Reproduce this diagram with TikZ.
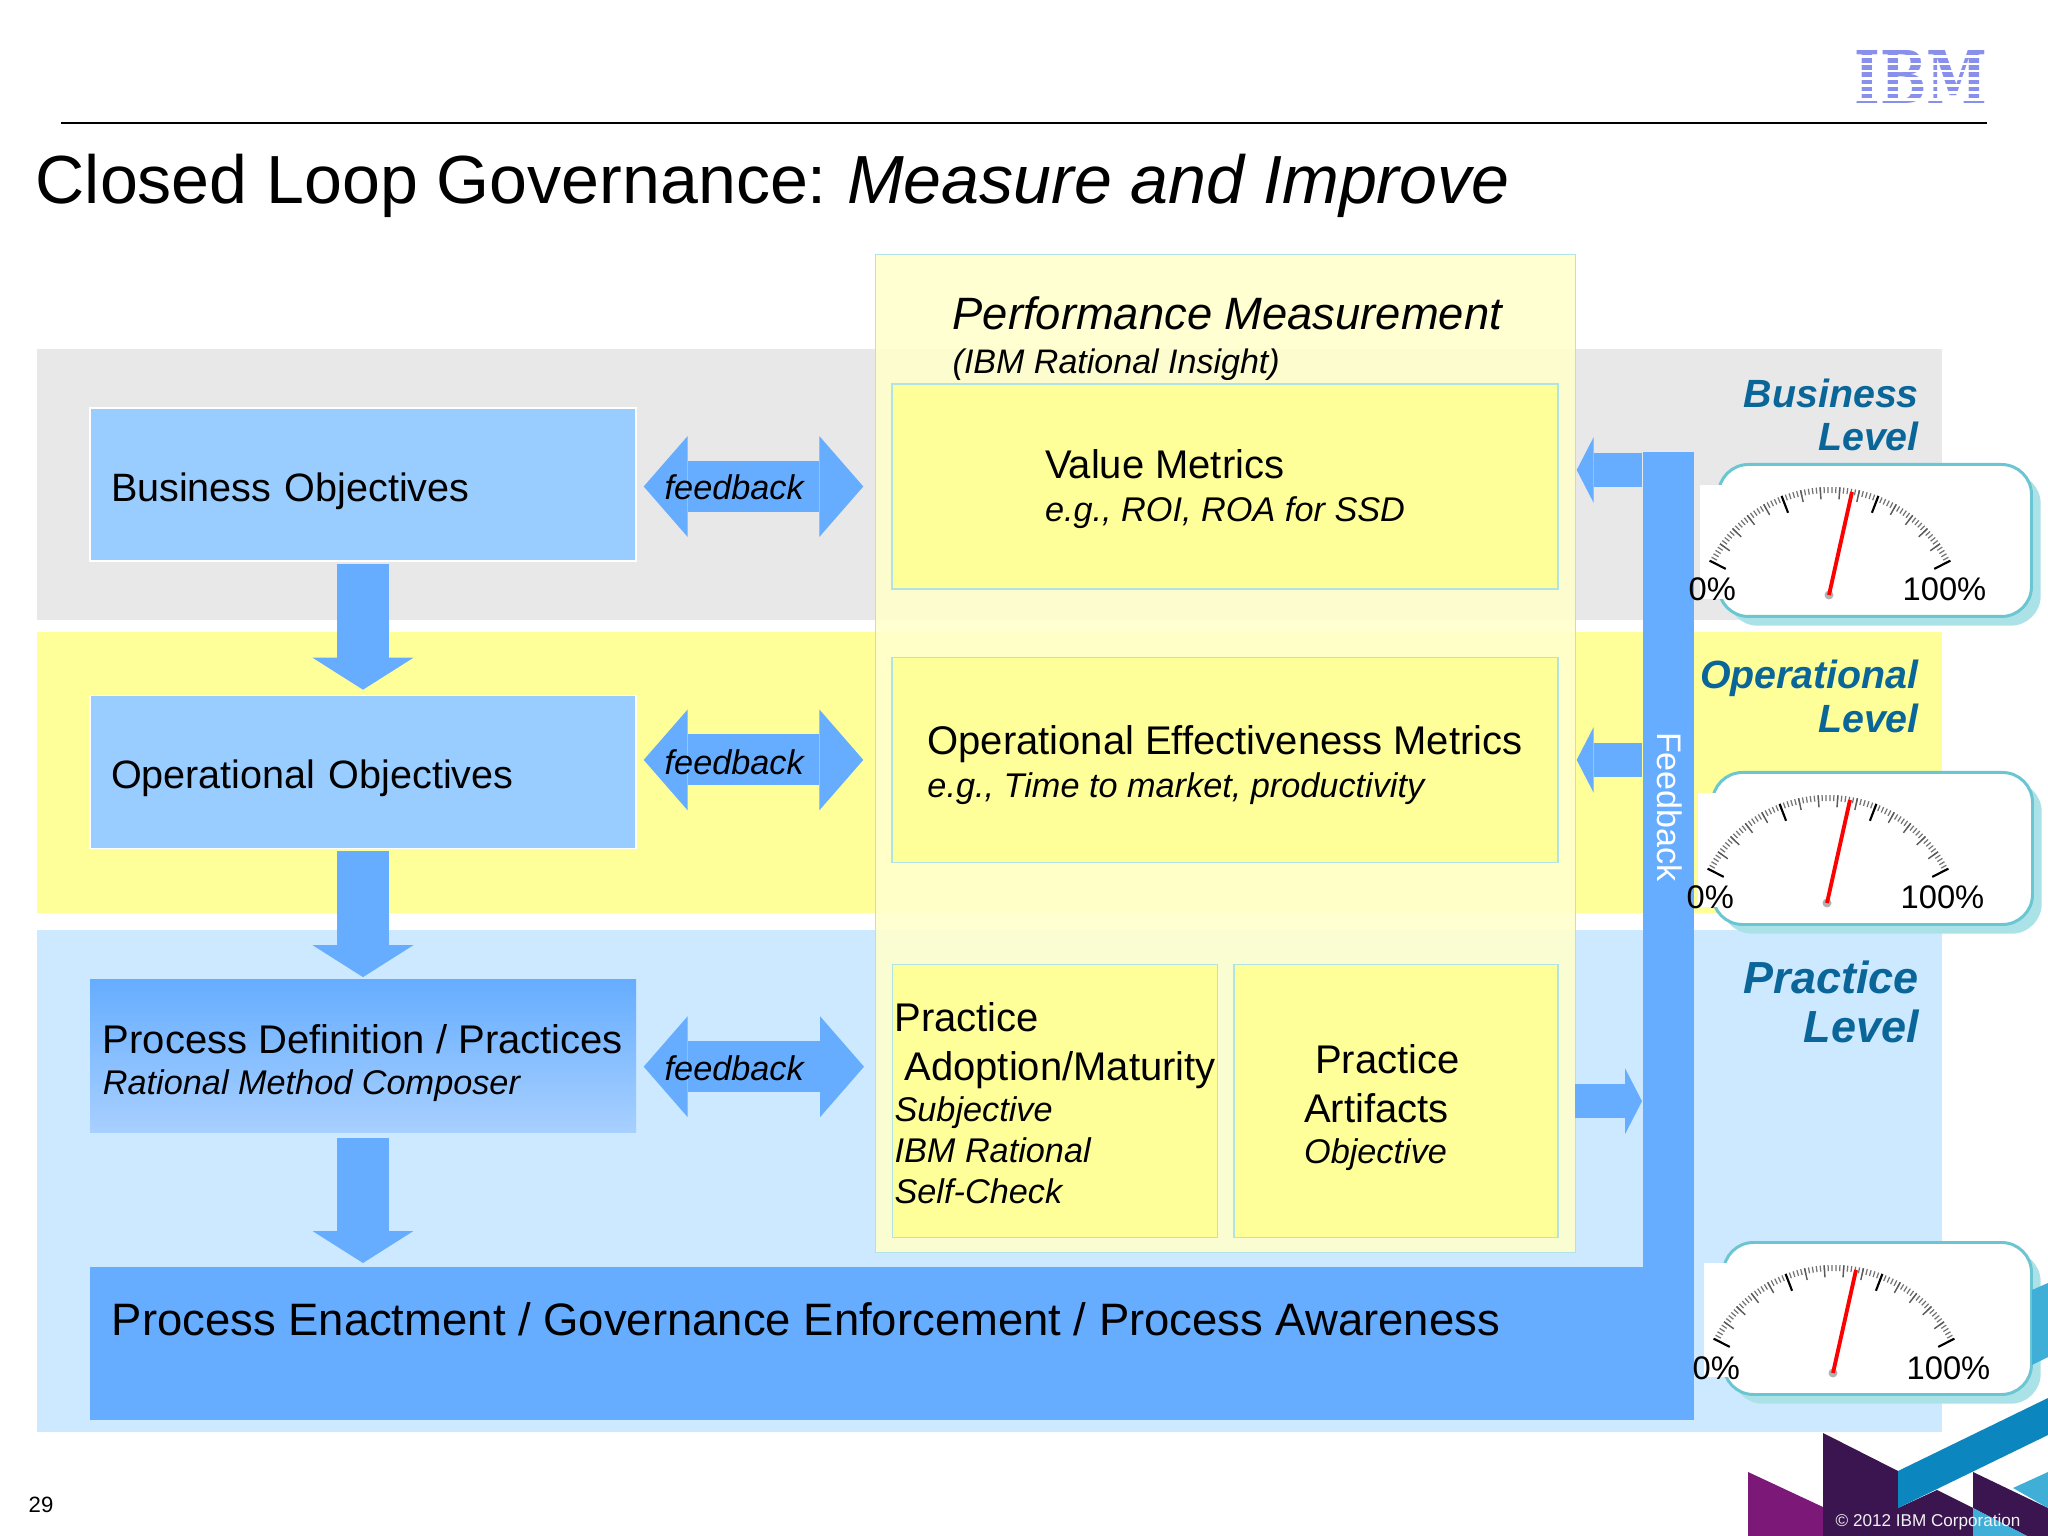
\documentclass[tikz,border=0pt]{standalone}
\usepackage{fontspec}
\usepackage{tikz}
\usetikzlibrary{positioning}
\usetikzlibrary{arrows.meta}
\setmainfont{Liberation Sans}
\newfontfamily\logofont{DejaVu Serif}

\definecolor{BandGrey}{HTML}{E8E8E9}
\definecolor{BandYellow}{HTML}{FFFF99}
\definecolor{BandBlue}{HTML}{CCE9FF}
\definecolor{FlowBlue}{HTML}{66ADFF}
\definecolor{ObjBlue}{HTML}{99CCFF}
\definecolor{PaleBlue}{HTML}{A8D0FF}
\definecolor{ColYellow}{HTML}{FFFFCC}
\definecolor{BoxLine}{HTML}{B0E4E4}
\definecolor{LevelBlue}{HTML}{0A6699}
\definecolor{PanelLine}{HTML}{6CC6D2}
\definecolor{PanelShadow}{HTML}{ABE2E8}
\definecolor{LogoBlue}{HTML}{8890EC}
\definecolor{DecoPurple}{HTML}{7B1878}
\definecolor{DecoDark}{HTML}{3A154F}
\definecolor{DecoBlue}{HTML}{0B86BE}
\definecolor{DecoLight}{HTML}{3FAFD8}

\newcommand{\txtbody}{\fontsize{11.38}{13.9}\selectfont}
\newcommand{\txtsub}{\fontsize{9.75}{12}\selectfont\itshape}
\newcommand{\txtlevel}{\fontsize{11.2}{12.4}\selectfont\bfseries\itshape}
\newcommand{\topgap}[1]{\rule{0pt}{#1}}

\tikzset{
	band/.style={
		inner sep=0pt,
		anchor=north west
	},
	objbox/.style={
		draw=white,
		line width=.4pt,
		fill=ObjBlue,
		minimum width=5.46cm,
		minimum height=1.53cm,
		inner xsep=.21cm,
		text width=5.04cm,
		align=left,
		font=\fontsize{11.26}{13.9}\selectfont
	},
	metricbox/.style={
		draw=BoxLine,
		line width=.4pt,
		fill=BandYellow,
		minimum height=2.05cm,
		inner sep=0pt,
		align=left,
		font=\txtbody
	},
	flow/.style={
		draw=FlowBlue,
		line width=.52cm,
		-{Triangle[length=.32cm,width=1.01cm,line width=0pt]}
	},
	feedflow/.style={
		draw=FlowBlue,
		line width=.51cm,
		{Triangle[length=.44cm,width=1.01cm,line width=0pt]}-{Triangle[length=.44cm,width=1.01cm,line width=0pt]}
	},
	busflow/.style={
		draw=FlowBlue,
		line width=.34cm,
		-{Triangle[length=.17cm,width=.66cm,line width=0pt]}
	},
	panel/.style={
		draw=PanelLine,
		line width=.85pt,
		fill=white,
		rounded corners=.3cm,
		minimum height=1.52cm,
		inner sep=0pt,
		anchor=north west
	},
	panelback/.style={
		fill=PanelShadow,
		rounded corners=.3cm,
		minimum height=1.52cm,
		inner sep=0pt,
		anchor=north west
	},
	tickminor/.style={line width=.35pt, draw=black!55},
	tickmedium/.style={line width=.4pt, draw=black!65},
	tickmajor/.style={line width=.6pt, draw=black}
}

% one dial: name, pivot, panel left edge, panel width
\newcommand{\gauge}[4]{
	\begin{scope}[shift={(#2)}]
		\node[panelback, minimum width=#4 cm] (#1-back) at (#3+.1,-1.22) {};
		\node[panel, minimum width=#4 cm] (#1-panel) at (#3,-1.32) {};
		\node[fill=white, inner sep=0pt, minimum width=.27cm, minimum height=1.14cm, anchor=north west] (#1-patch) at (-1.3,-1.11) {};
		\begin{scope}[shift={(.01,.27)}]
			\foreach \i in {0,...,75}
				\draw[tickminor] ({153-1.68*\i}:1.35cm) -- ({153-1.68*\i}:1.29cm);
			\foreach \i in {0,...,15}
				\draw[tickmedium] ({153-8.4*\i}:1.35cm) -- ({153-8.4*\i}:1.23cm);
			\foreach \i in {0,...,3}
				\draw[tickmajor] ({153-42*\i}:1.35cm) -- ({153-42*\i}:1.17cm);
		\end{scope}
		\node[circle, fill=black!30, minimum size=.09cm, inner sep=0pt] (#1-pivot) at (0,0) {};
		\coordinate (#1-tip) at (.23,-1.03);
		\draw[red, line width=1.1pt] (#1-pivot.center) -- (#1-tip);
		\node[anchor=base west, inner sep=0pt, font=\fontsize{9.3}{11}\selectfont] (#1-zero) at (-1.41,.06) {0\%};
		\node[anchor=base west, inner sep=0pt, font=\fontsize{9.3}{11}\selectfont] (#1-full) at (.73,.06) {100\%};
	\end{scope}
}

\begin{document}
\begin{tikzpicture}[x=1cm,y=-1cm]
	\useasboundingbox (0,0) rectangle (20.48,15.36);
	
	% --- bands
	
	\node[band, fill=BandGrey, minimum width=19.05cm, minimum height=2.71cm] (BusBand) at (.365,3.48) {};
	\node[band, fill=BandYellow, minimum width=19.05cm, minimum height=2.81cm] (OpBand) at (.365,6.31) {};
	\node[band, fill=BandBlue, minimum width=19.05cm, minimum height=5.02cm] (PracBand) at (.365,9.29) {};
	
	% --- decoration in the corner
	
	\fill[DecoPurple] (17.48,14.72) -- (18.23,15.07) -- (18.23,15.36) -- (17.48,15.36) -- cycle;
	\fill[DecoDark] (18.23,14.33) -- (18.98,14.71) -- (18.98,15.08) -- (19.37,14.90) -- (19.73,15.08) -- (19.73,15.36) -- (18.23,15.36) -- cycle;
	\fill[DecoBlue] (18.98,14.71) -- (20.48,13.98) -- (20.48,14.35) -- (18.98,15.08) -- cycle;
	\fill[DecoDark] (19.73,14.72) -- (20.48,15.08) -- (20.48,15.36) -- (20.27,15.36) -- (19.73,15.08) -- cycle;
	\fill[DecoLight] (19.73,15.08) -- (20.27,15.36) -- (19.73,15.36) -- cycle;
	\fill[DecoLight] (20.13,14.88) -- (20.48,14.72) -- (20.48,15.08) -- cycle;
	
	% --- heading
	
	\draw[line width=.7pt] (.61,1.23) -- (19.87,1.23);
	\node[anchor=base west, inner sep=0pt, font=\fontsize{19.38}{23}\selectfont] (Title) at (.35,2.04) {Closed Loop Governance:\hspace*{.01cm} \textit{Measure and Improve}};
	\node[anchor=base west, inner sep=0pt, text=LogoBlue, font=\logofont\bfseries\fontsize{20.7}{24}\selectfont] (Logo) at (18.54,1.04) {\scalebox{.755}[1]{IBM}};
	\foreach \i in {0,...,6}
		\fill[white] (18.4,{.555+.0715*\i}) rectangle (20,{.582+.0715*\i});
	
	% --- objectives
	
	\node[objbox, text height=.42cm] (BusObj) at (3.63,4.845) {Business Objectives};
	
	\node[objbox, text height=.42cm, below=1.33cm of BusObj] (OpObj) {Operational Objectives};
	
	\node[objbox, below=1.3cm of OpObj, draw=none, text width=, inner xsep=0pt, top color=FlowBlue, bottom color=PaleBlue, font=\txtbody] (ProcDef) {\topgap{.43cm}Process Definition / Practices\\[-2.1pt]{\txtsub Rational Method Composer}};
	
	\node[fill=FlowBlue, anchor=north west, inner sep=0pt, minimum width=16.04cm, minimum height=1.53cm] (Enact) at (.89,12.66) {};
	\node[anchor=base west, inner sep=0pt, font=\fontsize{12.93}{15}\selectfont] (EnactText) at (1.11,13.35) {Process Enactment / Governance Enforcement / Process Awareness};
	
	% ---
	
	\node[fill=FlowBlue, anchor=north west, inner sep=0pt, minimum width=.51cm, minimum height=8.2cm] (FBar) at (16.42,4.51) {};
	\node[rotate=-90, text=white, inner sep=0pt, font=\fontsize{9.7}{11}\selectfont] (FBarText) at (16.7,8.07) {Feedback};
	
	% --- measurement column
	
	\node[band, draw=BoxLine, line width=.4pt, fill=ColYellow, fill opacity=.9, minimum width=7cm, minimum height=9.98cm] (PerfCol) at (8.75,2.54) {};
	\node[anchor=base west, inner sep=0pt, font=\fontsize{12.9}{15}\selectfont\itshape] (PerfHead) at (9.52,3.3) {Performance Measurement};
	\node[anchor=base west, inner sep=0pt, font=\fontsize{9.68}{12}\selectfont\itshape] (PerfTool) at (9.52,3.735) {(IBM Rational Insight)};
	
	\node[metricbox, minimum width=6.66cm] (ValMetric) at (12.25,4.865) {\topgap{.345cm}Value Metrics\\[-1.8pt]{\txtsub e.g., ROI, ROA for SSD}};
	
	\node[metricbox, minimum width=6.66cm, below=.67cm of ValMetric] (OpMetric) {\topgap{.39cm}Operational Effectiveness Metrics\\[-1.8pt]{\txtsub e.g., Time to market, productivity}};
	
	\node[metricbox, minimum width=3.25cm, minimum height=2.73cm, anchor=north west] (PracAdopt) at (8.92,9.64) {\topgap{.33cm}Practice\\[0pt]\hspace*{.1cm}Adoption/Maturity\\[-2.1pt]{\txtsub Subjective}\\[-2.3pt]{\txtsub IBM Rational}\\[-2.3pt]{\txtsub Self-Check}};
	
	\node[metricbox, minimum width=3.24cm, minimum height=2.73cm, right=.15cm of PracAdopt, inner xsep=.7cm, text width=1.84cm] (PracArt) {\topgap{.42cm}\hspace*{.11cm}Practice\\Artifacts\\[-2.1pt]{\txtsub Objective}};
	
	% --- level labels
	
	\node[anchor=north east, inner sep=0pt, align=right, text=LevelBlue, font=\txtlevel] (BusLevel) at (19.195,3.78) {Business\\Level};
	\node[anchor=north east, inner sep=0pt, align=right, text=LevelBlue, font=\txtlevel] (OpLevel) at (19.195,6.595) {Operational\\Level};
	\node[anchor=north east, inner sep=0pt, align=right, text=LevelBlue, font=\fontsize{12.8}{13.9}\selectfont\bfseries\itshape] (PracLevel) at (19.195,9.6) {Practice\\Level};
	
	% --- flows
	
	\draw[flow, shorten <=.02cm, shorten >=.05cm] (BusObj.south) -- (OpObj.north);
	\draw[flow, shorten <=.02cm, shorten >=.02cm] (OpObj.south) -- (ProcDef.north);
	\draw[flow, shorten <=.04cm, shorten >=.03cm] (ProcDef.south) -- (ProcDef.south |- Enact.north);
	
	\draw[feedflow, shorten <=.07cm, shorten >=.28cm] (ValMetric.west -| BusObj.east) -- (ValMetric.west);
	\draw[feedflow, shorten <=.07cm, shorten >=.28cm] (OpMetric.west -| OpObj.east) -- (OpMetric.west);
	\draw[feedflow, shorten <=.07cm, shorten >=.28cm] ([yshift=.345cm]PracAdopt.west -| ProcDef.east) -- ([yshift=.345cm]PracAdopt.west);
	
	\node[anchor=base west, inner sep=0pt, font=\txtsub] (FeedA) at (6.64,5.0) {feedback};
	\node[anchor=base west, inner sep=0pt, font=\txtsub] (FeedB) at (6.64,7.745) {feedback};
	\node[anchor=base west, inner sep=0pt, font=\txtsub] (FeedC) at (6.64,10.8) {feedback};
	
	\draw[busflow, shorten >=.18cm] ([yshift=.165cm]ValMetric.east -| FBar.west) -- ([yshift=.165cm]ValMetric.east);
	\draw[busflow, shorten >=.18cm] (OpMetric.east -| FBar.west) -- (OpMetric.east);
	\draw[busflow, shorten <=.16cm] (PracArt.east) -- (PracArt.east -| FBar.west);
	
	% --- dials
	
	\gauge{BusGauge}{18.29,5.95}{-1.12}{3.13}
	\gauge{OpGauge}{18.27,9.03}{-1.16}{3.2}
	\gauge{PracGauge}{18.33,13.73}{-1.11}{3.08}
	
	\fill[DecoLight] (20.32,12.90) -- (20.48,12.83) -- (20.48,13.57) -- (20.32,13.65) -- cycle;
	
	% --- footer
	
	\node[anchor=base west, inner sep=0pt, font=\fontsize{6.3}{8}\selectfont] (PageNo) at (.28,15.12) {29};
	\node[anchor=base west, inner sep=0pt, text=black!5, font=\fontsize{4.87}{6}\selectfont] (Copyright) at (18.35,15.26) {\textcopyright\ 2012 IBM Corporation};
\end{tikzpicture}
\end{document}
